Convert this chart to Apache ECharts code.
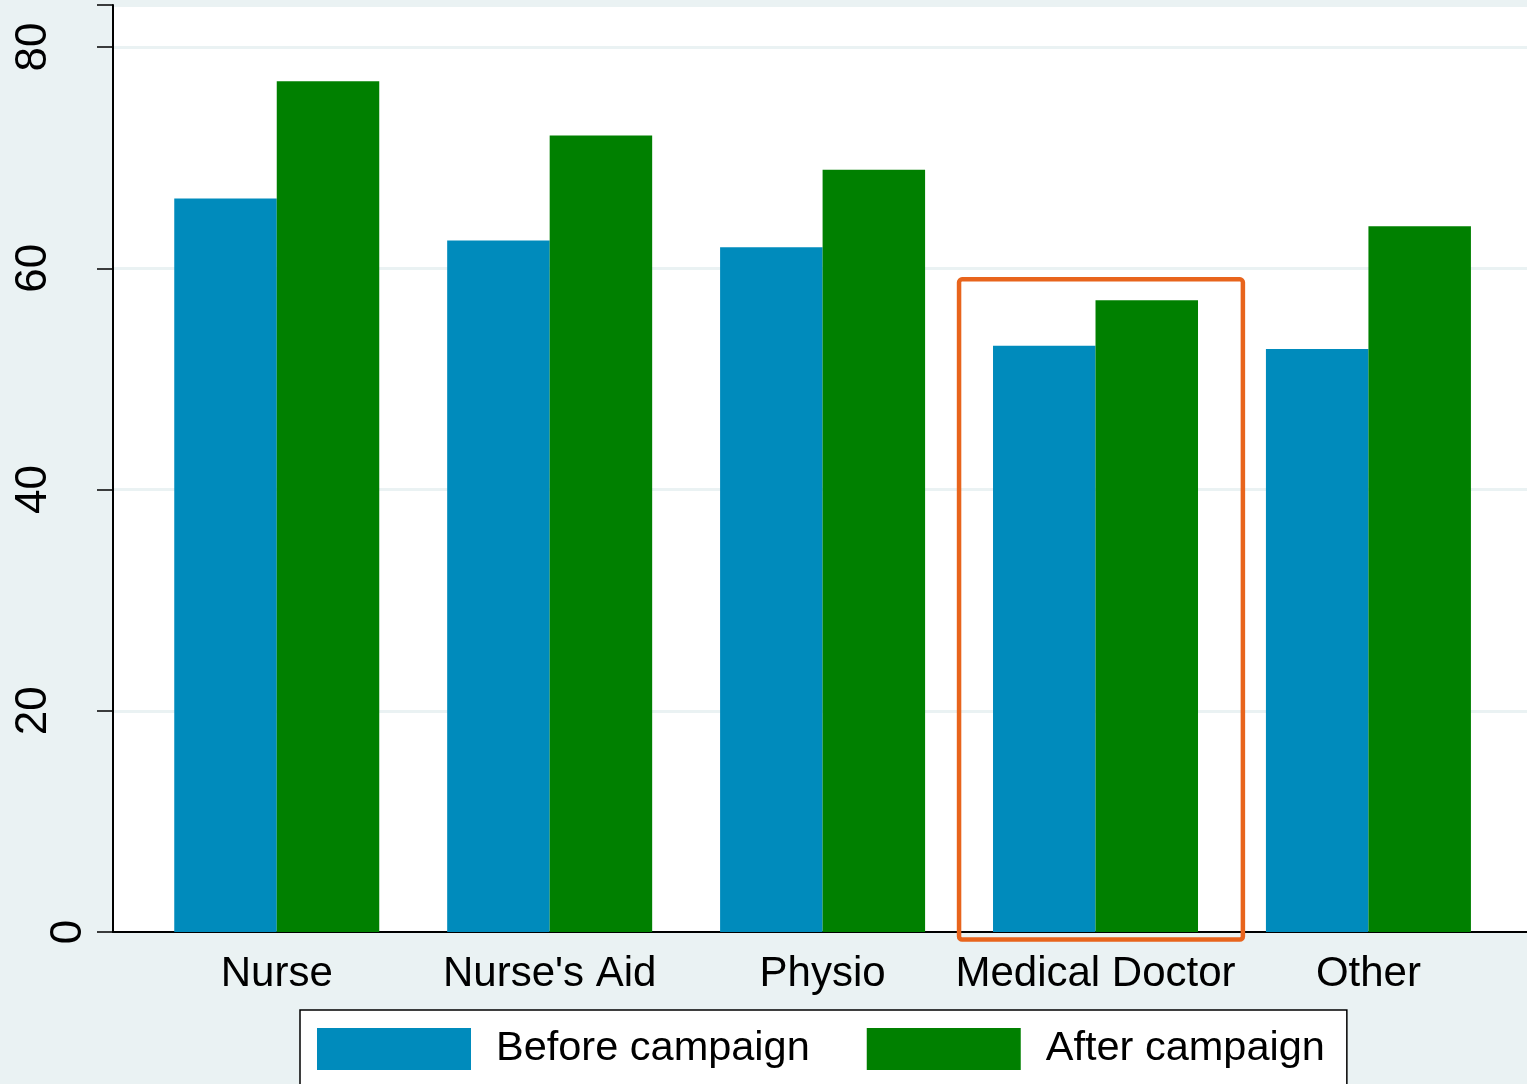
<!DOCTYPE html>
<html>
<head>
<meta charset="utf-8">
<script src="https://cdn.jsdelivr.net/npm/echarts@6/dist/echarts.min.js"></script>
<style>
  html, body { margin: 0; padding: 0; background: #eaf2f3; }
  #chart { width: 1527px; height: 1084px; }
</style>
</head>
<body>
<div id="chart"></div>
<script>
// categories and values
const categories = ['Nurse', "Nurse's Aid", 'Physio', 'Medical Doctor', 'Other']
const beforeCampaign = [66.3, 62.5, 61.9, 53.0, 52.7]
const afterCampaign = [76.9, 72.0, 68.9, 57.1, 63.8]
const yTicks = [0, 20, 40, 60, 80]
// highlight box around Medical Doctor: [xFrom, xTo, yFrom, yTo]
const highlightBox = [[2.5, 3.54, -0.68, 59.0]]

const FONT = '"Liberation Sans", Arial, sans-serif'
const BLUE = '#008bbc'
const GREEN = '#008000'

const chart = echarts.init(document.getElementById('chart'))

const option = {
  backgroundColor: '#eaf2f3',
  animation: false,
  textStyle: { fontFamily: FONT },
  grid: {
    left: 113,
    right: 0,
    top: 5,
    bottom: 152,
    outerBoundsMode: 'none',
    containLabel: false,
    show: true,
    backgroundColor: '#fff',
    borderWidth: 0
  },
  legend: {
    data: ['Before campaign', 'After campaign'],
    left: 300,
    top: 1010,
    padding: [18, 22, 24, 17],
    itemGap: 57,
    itemWidth: 154,
    itemHeight: 42,
    icon: 'rect',
    backgroundColor: '#fff',
    borderColor: '#000',
    borderWidth: 1.5,
    borderRadius: 0,
    textStyle: {
      fontFamily: FONT,
      fontSize: 41.5,
      color: '#000',
      padding: [4, 0, 0, 20]
    }
  },
  xAxis: {
    type: 'value',
    min: -0.6,
    max: 4.581,
    axisLine: { show: true, onZero: true, lineStyle: { color: '#000', width: 2 } },
    axisTick: { show: false },
    splitLine: { show: false },
    axisLabel: {
      customValues: [0, 1, 2, 3, 4],
      formatter: v => categories[Math.round(v)],
      fontFamily: FONT,
      fontSize: 42,
      color: '#000',
      margin: 21
    }
  },
  yAxis: {
    type: 'value',
    min: 0,
    max: 83.8,
    interval: 20,
    axisLine: { show: true, onZero: false, lineStyle: { color: '#000', width: 2 } },
    axisTick: { show: true, length: 16, lineStyle: { color: '#000', width: 1.5 } },
    splitLine: { show: true, lineStyle: { color: '#eaf2f3', width: 3 } },
    axisLabel: {
      rotate: 90,
      margin: 22,
      color: '#000',
      fontFamily: FONT,
      fontSize: 44,
      formatter: v => (yTicks.includes(v) ? (v === 0 ? '{z|0}' : '{n|' + v + '}') : ''),
      rich: {
        z: { fontSize: 44, fontFamily: FONT, color: '#000' },
        n: { fontSize: 44, fontFamily: FONT, color: '#000', lineHeight: 114 }
      }
    }
  },
  series: [
    {
      name: 'Before campaign',
      type: 'bar',
      barWidth: 102.5,
      barGap: '0%',
      itemStyle: { color: BLUE },
      data: beforeCampaign.map((v, i) => [i, v])
    },
    {
      name: 'After campaign',
      type: 'bar',
      barWidth: 102.5,
      barGap: '0%',
      itemStyle: { color: GREEN },
      data: afterCampaign.map((v, i) => [i, v])
    },
    {
      name: 'highlight',
      type: 'custom',
      clip: false,
      silent: true,
      z: 5,
      data: highlightBox,
      renderItem: (params, api) => {
        const p0 = api.coord([api.value(0), api.value(3)])
        const p1 = api.coord([api.value(1), api.value(2)])
        return {
          type: 'rect',
          shape: { x: p0[0], y: p0[1], width: p1[0] - p0[0], height: p1[1] - p0[1], r: 3 },
          style: { fill: 'none', stroke: '#e8641c', lineWidth: 4.5 }
        }
      }
    }
  ]
}

chart.setOption(option)
</script>
</body>
</html>
